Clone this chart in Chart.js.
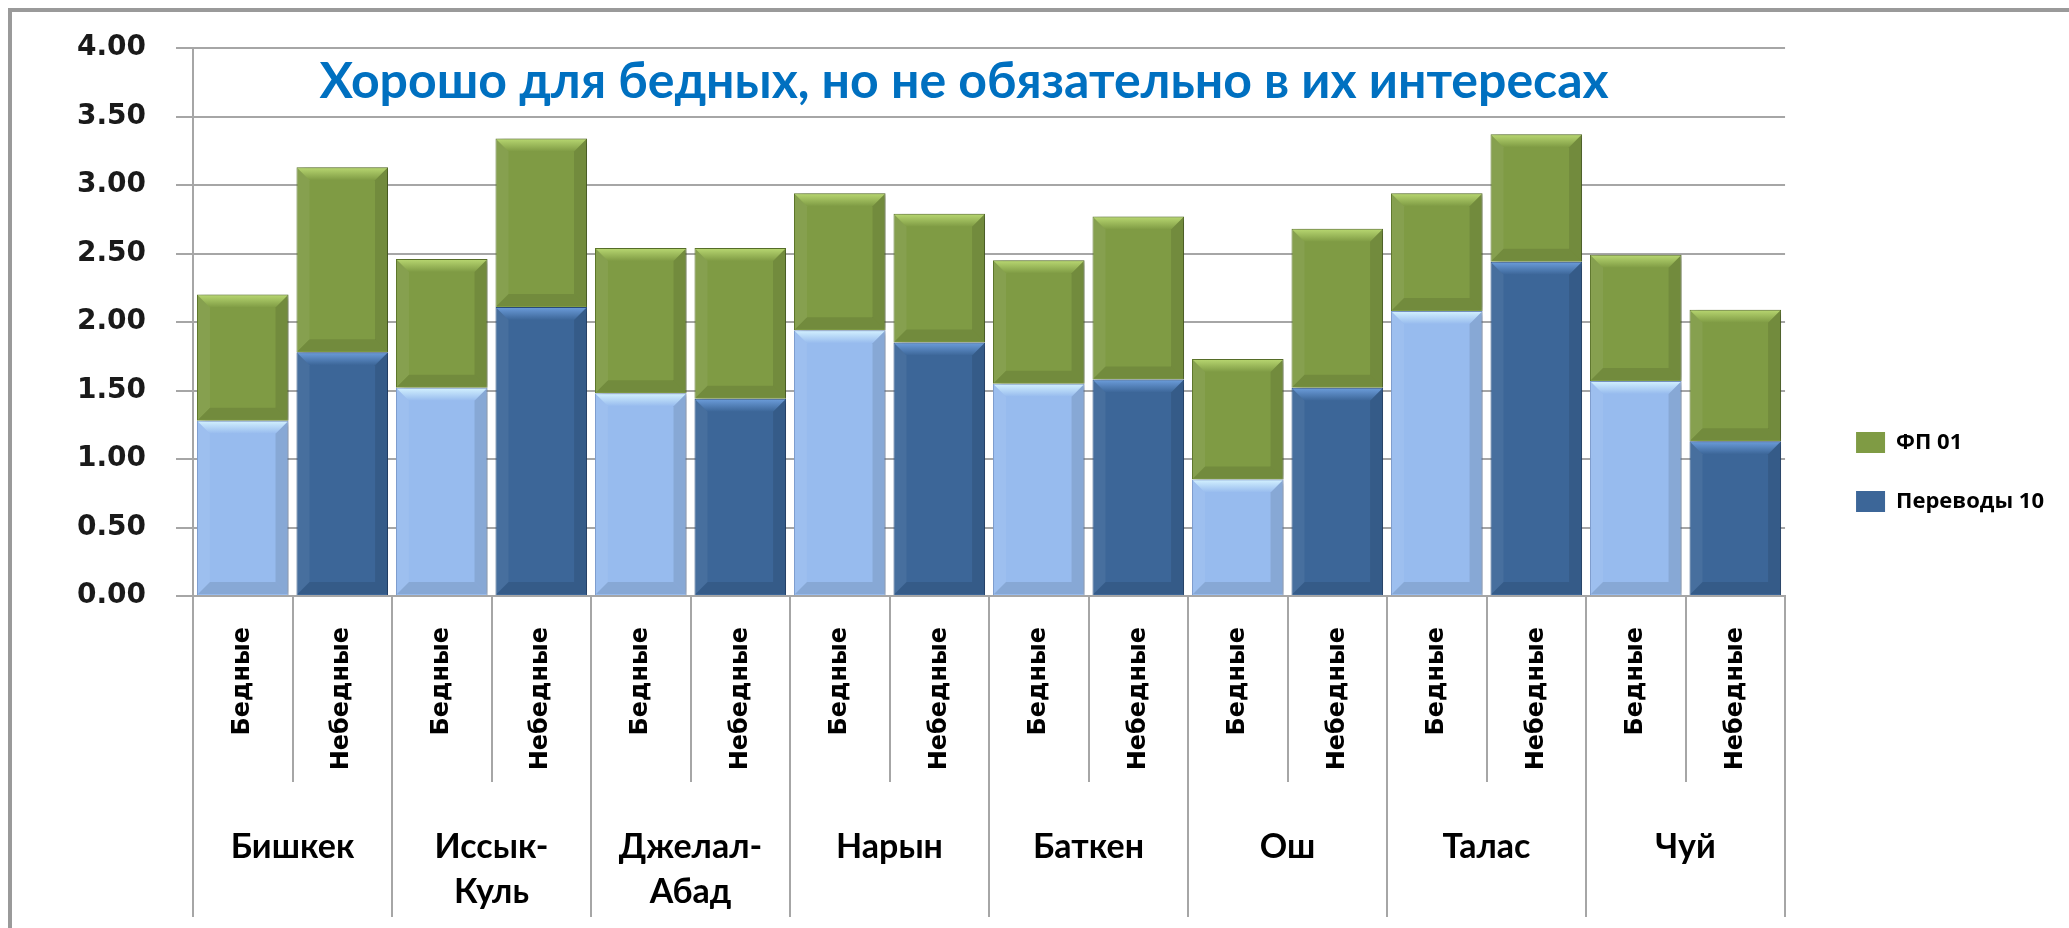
<!DOCTYPE html>
<html>
<head>
<meta charset="utf-8">
<script src="https://cdn.jsdelivr.net/npm/chart.js@4.4.1/dist/chart.umd.min.js"></script>
<style>
  html, body { margin: 0; padding: 0; background: #fff; overflow: hidden; }
  #wrap { position: relative; width: 2069px; height: 928px; }
  #frame { position: absolute; left: 8px; top: 8px; right: 0; bottom: 0;
           border-left: 4px solid #9a9a9a; border-top: 4px solid #9a9a9a; pointer-events: none; }
</style>
</head>
<body>
<div id="wrap">
  <canvas id="chart" width="2069" height="928"></canvas>
  <div id="frame"></div>
</div>
<script>
// data
var chartTitle = 'Хорошо для бедных, но не обязательно в их интересах';
var regions = [['Бишкек'], ['Иссык-', 'Куль'], ['Джелал-', 'Абад'], ['Нарын'], ['Баткен'], ['Ош'], ['Талас'], ['Чуй']];
var groups = ['Бедные', 'Небедные'];
var perevody10 = [1.28, 1.78, 1.52, 2.11, 1.48, 1.44, 1.94, 1.85, 1.55, 1.58, 0.85, 1.52, 2.08, 2.44, 1.57, 1.13];
var fp01 = [0.92, 1.35, 0.94, 1.23, 1.06, 1.10, 1.00, 0.94, 0.90, 1.19, 0.88, 1.16, 0.86, 0.93, 0.92, 0.96];
var yMin = 0, yMax = 4, yStep = 0.5;

var categories = [];
regions.forEach(function(){ groups.forEach(function(g){ categories.push(g); }); });

var lightBlue = '#97bbee', darkBlue = '#3c6698', green = '#7f9b44';
var topShade = {};
topShade[lightBlue] = '#d4f2ff';
topShade[darkBlue] = '#6d9edc';
topShade[green] = '#b9d872';

var perevodyColors = categories.map(function(c){ return c === 'Бедные' ? lightBlue : darkBlue; });
var perevodyBorders = categories.map(function(c){ return c === 'Бедные' ? '#7f9fd0' : '#2c5285'; });

// title sits inside the plot, between the top gridlines
var titlePlugin = {
  id: 'insideTitle',
  afterDraw: function(chart) {
    var ctx = chart.ctx, a = chart.chartArea;
    ctx.save();
    ctx.font = 'bold 50px Lato';
    ctx.fillStyle = '#0070c0';
    ctx.textAlign = 'center';
    ctx.textBaseline = 'middle';
    ctx.fillText(chartTitle, (a.left + a.right) / 2 - 25, a.top + 34);
    ctx.restore();
  }
};

// the category labels hang below their boxes, so don't let them get clipped
var unclipPlugin = {
  id: 'unclip',
  afterLayout: function(chart) {
    chart.scales.x.bottom = chart.height;
    chart.scales.x2.bottom = chart.height;
  }
};

// soft shadow + bevel look of the office bars
var bevelPlugin = {
  id: 'bevel',
  beforeDatasetsDraw: function(chart) {
    var ctx = chart.ctx;
    ctx.save();
    ctx.shadowColor = 'rgba(0,0,0,0.28)';
    ctx.shadowBlur = 6;
    ctx.shadowOffsetX = 5;
    ctx.shadowOffsetY = 1;
  },
  afterDatasetsDraw: function(chart) {
    var ctx = chart.ctx;
    ctx.restore();
    ctx.save();
    chart.data.datasets.forEach(function(ds, di) {
      var meta = chart.getDatasetMeta(di);
      meta.data.forEach(function(bar) {
        var p = bar.getProps(['x', 'y', 'base', 'width'], true);
        var l = p.x - p.width / 2, r = p.x + p.width / 2;
        var t = Math.min(p.y, p.base), b = Math.max(p.y, p.base);
        var d = Math.min(13, (b - t) / 3);
        var face = bar.options.backgroundColor;

        var g = ctx.createLinearGradient(0, t, 0, t + d);
        g.addColorStop(0, topShade[face] || '#fff');
        g.addColorStop(1, face);
        ctx.fillStyle = g;
        ctx.beginPath();
        ctx.moveTo(l + 1, t + 1); ctx.lineTo(r - 1, t + 1);
        ctx.lineTo(r - d, t + d); ctx.lineTo(l + d, t + d);
        ctx.closePath(); ctx.fill();

        ctx.fillStyle = 'rgba(0,0,0,0.10)';
        ctx.beginPath();
        ctx.moveTo(l + 1, b - 1); ctx.lineTo(r - 1, b - 1);
        ctx.lineTo(r - d, b - d); ctx.lineTo(l + d, b - d);
        ctx.closePath(); ctx.fill();

        ctx.fillStyle = 'rgba(0,0,0,0.10)';
        ctx.beginPath();
        ctx.moveTo(r - 1, t + 1); ctx.lineTo(r - 1, b - 1);
        ctx.lineTo(r - d, b - d); ctx.lineTo(r - d, t + d);
        ctx.closePath(); ctx.fill();

        ctx.fillStyle = 'rgba(255,255,255,0.06)';
        ctx.beginPath();
        ctx.moveTo(l + 1, t + 1); ctx.lineTo(l + 1, b - 1);
        ctx.lineTo(l + d, b - d); ctx.lineTo(l + d, t + d);
        ctx.closePath(); ctx.fill();
      });
    });
    ctx.restore();
  }
};

var gridColor = '#a6a6a6';

var ctx = document.getElementById('chart').getContext('2d');
var myChart = new Chart(ctx, {
  type: 'bar',
  data: {
    labels: categories,
    datasets: [{
      label: 'Переводы 10',
      data: perevody10,
      backgroundColor: perevodyColors,
      borderColor: perevodyBorders,
      borderWidth: 1,
      barPercentage: 0.92,
      categoryPercentage: 1.0
    }, {
      label: 'ФП 01',
      data: fp01,
      backgroundColor: green,
      borderColor: '#5e772c',
      borderWidth: 1,
      barPercentage: 0.92,
      categoryPercentage: 1.0
    }]
  },
  options: {
    responsive: false,
    animation: false,
    layout: { padding: { left: 40, top: 48, right: 15, bottom: 32 } },
    plugins: {
      title: { display: false },
      tooltip: { enabled: false },
      legend: {
        position: 'right',
        reverse: true,
        labels: {
          color: '#000',
          font: { family: 'Open Sans', weight: 'bold', size: 22 },
          boxWidth: 29,
          boxHeight: 21,
          padding: 37,
          generateLabels: function(chart) {
            return chart.data.datasets.map(function(ds, i) {
              var c = i === 0 ? darkBlue : green;
              return { text: ds.label, fillStyle: c, strokeStyle: c, lineWidth: 0,
                       datasetIndex: i, hidden: false };
            });
          }
        }
      }
    },
    scales: {
      x: {
        stacked: true,
        weight: 0,
        offset: true,
        grid: { offset: true, drawOnChartArea: false, tickLength: 186, color: gridColor, lineWidth: 2 },
        border: { display: true, color: gridColor, width: 2 },
        ticks: {
          autoSkip: false, minRotation: 90, maxRotation: 90, padding: -155,
          color: '#000', font: { family: 'DejaVu Sans', weight: 'bold', size: 24 }
        },
        afterFit: function(s) { s.height = 168; }
      },
      x2: {
        type: 'category',
        position: 'bottom',
        labels: regions,
        weight: 1,
        offset: true,
        grid: { offset: true, drawOnChartArea: false, tickLength: 153, color: gridColor, lineWidth: 2 },
        border: { display: false },
        ticks: {
          autoSkip: false, maxRotation: 0, padding: -92,
          color: '#000', font: { family: 'Lato', weight: 'bold', size: 34, lineHeight: 1.32 }
        },
        afterFit: function(s) { s.height = 132; }
      },
      y: {
        stacked: true,
        min: yMin,
        max: yMax,
        grid: { color: gridColor, lineWidth: 2, tickLength: 17 },
        border: { display: true, color: gridColor, width: 2 },
        ticks: {
          stepSize: yStep, padding: 30, color: '#1a1a1a',
          font: { family: 'DejaVu Sans', weight: 'bold', size: 28 },
          callback: function(v) { return Number(v).toFixed(2); }
        },
        afterFit: function(s) { s.width = 153; }
      },
      yPad: {
        position: 'right',
        type: 'linear',
        grid: { display: false, drawTicks: false },
        border: { display: false },
        ticks: { display: false },
        afterFit: function(s) { s.width = 34; }
      }
    }
  },
  plugins: [unclipPlugin, bevelPlugin, titlePlugin]
});
</script>
</body>
</html>
